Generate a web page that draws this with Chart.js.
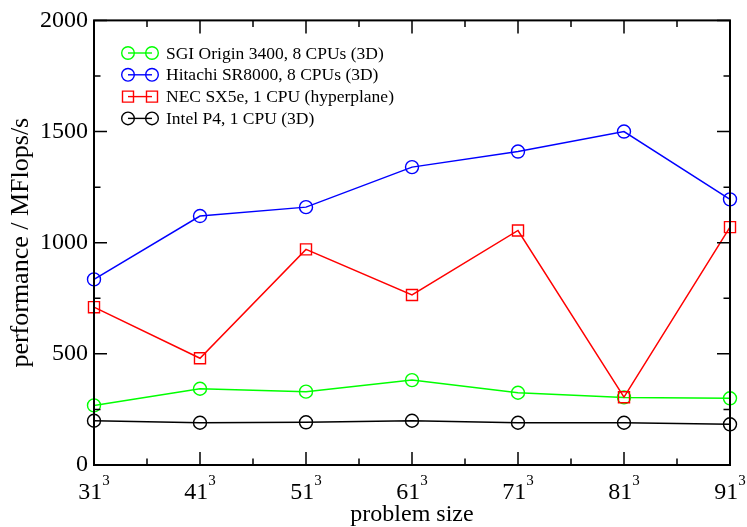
<!DOCTYPE html>
<html>
<head>
<meta charset="utf-8">
<script src="https://cdn.jsdelivr.net/npm/chart.js@4.4.1/dist/chart.umd.min.js"></script>
<style>
    html, body { margin: 0; padding: 0; background: #fff; }
    canvas { display: block; }
</style>
</head>
<body>
<canvas id="perf" width="747" height="527"></canvas>
<script>
// ==========================================
// Performance vs. problem size (cube edge)
// ==========================================

const problemSizes = [31, 41, 51, 61, 71, 81, 91];
const yTicks = [0, 500, 1000, 1500, 2000];

const sgiOrigin = [268, 343, 330, 382, 325, 304, 300];
const hitachiSR8000 = [835, 1120, 1160, 1340, 1410, 1500, 1195];
const necSX5e = [710, 480, 970, 765, 1055, 305, 1070];
const intelP4 = [199, 190, 192, 199, 190, 190, 183];

const seriesLabels = [
    'SGI Origin 3400, 8 CPUs (3D)',
    'Hitachi SR8000, 8 CPUs (3D)',
    'NEC SX5e, 1 CPU (hyperplane)',
    'Intel P4, 1 CPU (3D)'
];
const seriesColors = ['#00ff00', '#0000ff', '#ff0000', '#000000'];
const seriesMarkers = ['circle', 'circle', 'rect', 'circle'];
const seriesValues = [sgiOrigin, hitachiSR8000, necSX5e, intelP4];

const FONT = "'Liberation Serif', 'Times New Roman', serif";

const datasets = seriesValues.map((values, i) => ({
    label: seriesLabels[i],
    data: values.map((v, k) => ({ x: problemSizes[k], y: v })),
    borderColor: seriesColors[i],
    backgroundColor: 'transparent',
    borderWidth: 1.5,
    tension: 0,
    clip: false,
    pointStyle: seriesMarkers[i],
    pointRadius: seriesMarkers[i] === 'rect' ? 7.8 : 6.5,
    pointBorderWidth: 1.4,
    pointBackgroundColor: 'transparent',
    pointBorderColor: seriesColors[i],
    // first set underneath, last set on top
    order: seriesValues.length - i
}));

// frame with inward major/minor ticks on all four sides
const framePlugin = {
    id: 'frame',
    afterDatasetsDraw(chart) {
        const { ctx, chartArea: a, scales: { x, y } } = chart;
        ctx.save();
        ctx.strokeStyle = '#000';
        ctx.lineWidth = 1.5;
        ctx.beginPath();
        const major = 13, minor = 6.5;
        for (let v = 31; v <= 91; v += 5) {
            const px = x.getPixelForValue(v);
            const len = (v - 31) % 10 === 0 ? major : minor;
            ctx.moveTo(px, a.bottom); ctx.lineTo(px, a.bottom - len);
            ctx.moveTo(px, a.top); ctx.lineTo(px, a.top + len);
        }
        for (let v = 0; v <= 2000; v += 250) {
            const py = y.getPixelForValue(v);
            const len = v % 500 === 0 ? major : minor;
            ctx.moveTo(a.left, py); ctx.lineTo(a.left + len, py);
            ctx.moveTo(a.right, py); ctx.lineTo(a.right - len, py);
        }
        ctx.stroke();
        ctx.lineWidth = 2;
        ctx.strokeRect(a.left, a.top, a.right - a.left, a.bottom - a.top);
        ctx.restore();
    },
    afterDraw(chart) {
        const { ctx, chartArea: a, scales: { x } } = chart;
        ctx.save();
        ctx.fillStyle = '#000';

        // x tick labels as n^3
        ctx.textBaseline = 'alphabetic';
        ctx.textAlign = 'left';
        problemSizes.forEach(v => {
            const px = x.getPixelForValue(v);
            ctx.font = `24px ${FONT}`;
            const base = String(v);
            const wb = ctx.measureText(base).width;
            ctx.font = `15px ${FONT}`;
            const ws = ctx.measureText('3').width;
            const x0 = px - (wb + ws) / 2;
            ctx.font = `24px ${FONT}`;
            ctx.fillText(base, x0, 499);
            ctx.font = `15px ${FONT}`;
            ctx.fillText('3', x0 + wb, 485);
        });

        // axis titles
        ctx.font = `24px ${FONT}`;
        ctx.textAlign = 'center';
        ctx.fillText('problem size', (a.left + a.right) / 2, 521);

        ctx.save();
        ctx.translate(21, (a.top + a.bottom) / 2);
        ctx.rotate(-Math.PI / 2);
        ctx.font = `26px ${FONT}`;
        ctx.textBaseline = 'middle';
        ctx.fillText('performance / MFlops/s', 0, 0);
        ctx.restore();

        // legend: marker - line - marker, then label
        ctx.font = `17.5px ${FONT}`;
        ctx.textAlign = 'left';
        ctx.textBaseline = 'middle';
        chart.data.datasets.forEach((ds, i) => {
            const cy = 53 + i * 21.8;
            const x1 = 128, x2 = 152;
            ctx.strokeStyle = ds.borderColor;
            ctx.lineWidth = 1.4;
            ctx.beginPath();
            ctx.moveTo(x1, cy); ctx.lineTo(x2, cy);
            ctx.stroke();
            [x1, x2].forEach(mx => {
                ctx.beginPath();
                if (ds.pointStyle === 'rect') {
                    ctx.rect(mx - 5.5, cy - 5.5, 11, 11);
                } else {
                    ctx.arc(mx, cy, 6.3, 0, Math.PI * 2);
                }
                ctx.stroke();
            });
            ctx.fillStyle = '#000';
            ctx.fillText(ds.label, 166, cy + 1);
        });
        ctx.restore();
    }
};

new Chart(document.getElementById('perf'), {
    type: 'line',
    data: { datasets },
    options: {
        responsive: false,
        animation: false,
        layout: { padding: { top: 20, right: 17, left: 0, bottom: 0 } },
        plugins: {
            legend: { display: false },
            tooltip: { enabled: false }
        },
        scales: {
            x: {
                type: 'linear',
                min: 31,
                max: 91,
                grid: { display: false, drawTicks: false },
                border: { display: false },
                ticks: { display: false },
                afterFit: scale => { scale.height = 62; }
            },
            y: {
                type: 'linear',
                min: 0,
                max: 2000,
                grid: { display: false, drawTicks: false },
                border: { display: false },
                afterBuildTicks: scale => { scale.ticks = yTicks.map(v => ({ value: v })); },
                ticks: {
                    color: '#000',
                    padding: 6,
                    font: { family: FONT, size: 24 },
                    callback: value => String(value)
                },
                afterFit: scale => { scale.width = 94; }
            }
        }
    },
    plugins: [framePlugin]
});
</script>
</body>
</html>
